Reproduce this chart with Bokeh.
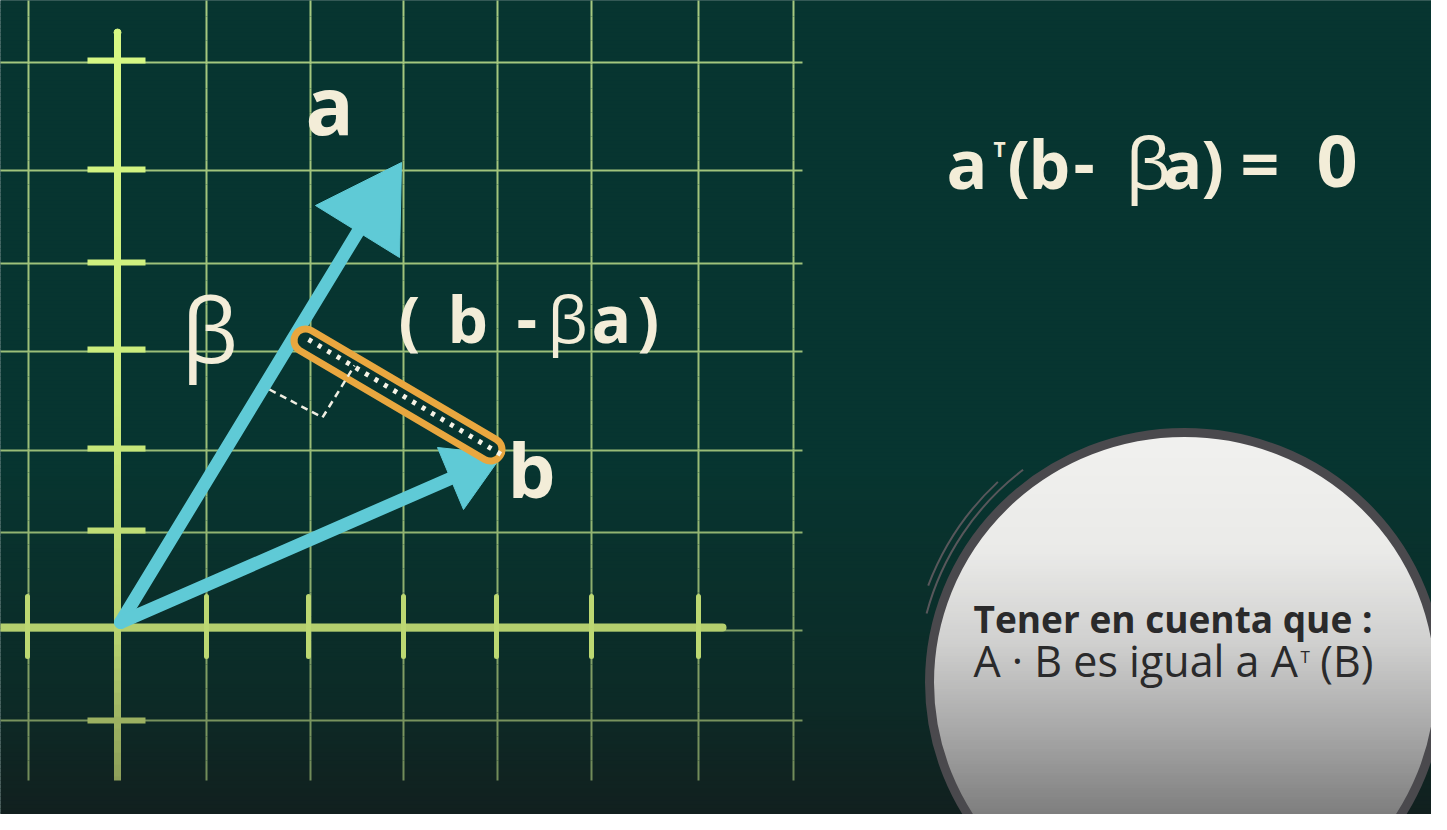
from bokeh.core.properties import value
from bokeh.embed import file_html
from bokeh.models import Range1d
from bokeh.plotting import figure
from bokeh.resources import INLINE

# Everything is placed in the reference's own pixel frame (x right, y down).
GRID_X = [36, 214, 318, 411, 505, 599, 706, 801]
GRID_Y = [70, 178, 271, 359, 458, 540, 638, 728]
GRID_TOP, GRID_BOTTOM = 0, 788
GRID_LEFT, GRID_RIGHT = 4, 810

AXIS_X = 125
AXIS_Y = 635
Y_AXIS_SPAN = [40, 788]
X_AXIS_SPAN = [4, 730]
Y_TICKS = [68, 177, 270, 357, 456, 538, 728]
X_TICKS = [35, 214, 316, 411, 504, 599, 706]

ORIGIN_X, ORIGIN_Y = 128, 630
SHAFT_END_X = [365, 458]
SHAFT_END_Y = [240, 486]
HEAD_XS = [[409, 323, 407], [510, 445, 471]]
HEAD_YS = [[170, 213, 265], [462, 455, 517]]

CAPSULE_X = [313, 498]
CAPSULE_Y = [348, 457]
DOTS_X = [316, 512]
DOTS_Y = [347, 464]
RIGHT_ANGLE_X = [277, 330, 362]
RIGHT_ANGLE_Y = [397, 425, 373]

BUBBLE_CX, BUBBLE_CY = 1192, 690
BUBBLE_RX, BUBBLE_RY = 255, 250

# (text, x, baseline y, size px, bold?)
LABELS = [
    ("a", 313, 144, 80, True),
    ("β", 189, 372, 90, False),
    ("(", 406, 352, 64, True),
    ("b", 455, 352, 64, True),
    ("-", 524, 352, 64, True),
    ("β", 555, 352, 64, False),
    ("a", 599, 352, 66, True),
    (")", 645, 352, 64, True),
    ("b", 515, 507, 76, True),
]
EQUATION = [
    ("a", 954, 198, 68, True),
    ("T", 1001, 165, 21, True),
    ("(", 1015, 198, 66, True),
    ("b", 1036, 198, 66, True),
    ("-", 1081, 198, 66, True),
    ("β", 1133, 198, 72, False),
    ("a", 1170, 198, 66, True),
    (")", 1209, 198, 66, True),
    ("=", 1248, 198, 68, True),
    ("0", 1324, 198, 72, True),
]
NOTE = [
    ("Tener en cuenta que :", 981, 641, 37, True),
    ("A · B es igual a A", 981, 686, 43, False),
    ("T", 1308, 671, 17, False),
]
NOTE_END = ("(B)", 1381, 686, 43)
BASELINE_SHIFT = 0.41  # em; how far the renderer drops an "alphabetic" anchor

BG_STOPS = [(0, "#073530"), (470, "#073530"), (700, "#0c2b27"), (830, "#121f1e")]
GRID_STOPS = [(0, "#a6c980"), (500, "#98bb76"), (788, "#6f8858")]
YAXIS_STOPS = [(40, "#d7f884"), (400, "#cbec7c"), (635, "#b8d370"), (788, "#8a9b58")]
BUBBLE_STOPS = [(440, "#f1f1ef"), (560, "#eaeae8"), (650, "#d0d0cf"), (740, "#a7a7a7"), (830, "#7a7a7a")]
VEC_COLOR = "#5fcad6"
CREAM = "#f3edd8"
INK = "#2a2a2b"
FONT = "Open Sans"


def ramp(stops, y):
    """Linear colour between (y, hex) stops."""
    if y <= stops[0][0]:
        return stops[0][1]
    for (y0, c0), (y1, c1) in zip(stops, stops[1:]):
        if y <= y1:
            t = (y - y0) / (y1 - y0)
            a = [int(c0[i:i + 2], 16) for i in (1, 3, 5)]
            b = [int(c1[i:i + 2], 16) for i in (1, 3, 5)]
            return "#%02x%02x%02x" % tuple(round(u + (v - u) * t) for u, v in zip(a, b))
    return stops[-1][1]


def put_text(p, txt, x, y, size, bold, color, align="left"):
    p.text(x=[x], y=[y - BASELINE_SHIFT * size], text=[txt], text_color=color,
           text_font=value(FONT), text_font_size=f"{size}px",
           text_font_style="bold" if bold else "normal",
           text_baseline="alphabetic", text_align=align)


p = figure(width=1431, height=814, x_range=Range1d(8, 1439), y_range=Range1d(822, 8),
           x_axis_location=None, y_axis_location=None, toolbar_location=None,
           output_backend="svg", min_border=0, outline_line_color=None,
           background_fill_color="#073530", border_fill_color="#073530")
p.xgrid.grid_line_color = None
p.ygrid.grid_line_color = None

# background gradient
bands = list(range(0, 830, 4))
p.quad(left=0, right=1447, top=bands, bottom=[b + 4.5 for b in bands],
       fill_color=[ramp(BG_STOPS, b) for b in bands], line_color=None)

# grid
chunks = list(range(GRID_TOP, GRID_BOTTOM, 24))
gx0, gy0, gy1, gcol = [], [], [], []
for x in GRID_X:
    for c in chunks:
        gx0.append(x)
        gy0.append(c)
        gy1.append(min(c + 24, GRID_BOTTOM))
        gcol.append(ramp(GRID_STOPS, c))
p.segment(x0=gx0, y0=gy0, x1=gx0, y1=gy1, line_color=gcol, line_width=2)
p.segment(x0=GRID_LEFT, y0=GRID_Y, x1=GRID_RIGHT, y1=GRID_Y,
          line_color=[ramp(GRID_STOPS, y) for y in GRID_Y], line_width=2)

# axes
p.segment(x0=X_AXIS_SPAN[0], y0=AXIS_Y, x1=X_AXIS_SPAN[1], y1=AXIS_Y,
          line_color="#b5cf6e", line_width=8, line_cap="round")
p.segment(x0=X_TICKS, y0=AXIS_Y - 31, x1=X_TICKS, y1=AXIS_Y + 29,
          line_color="#bcd872", line_width=5, line_cap="round")
ys = list(range(Y_AXIS_SPAN[0], Y_AXIS_SPAN[1], 12))
p.segment(x0=AXIS_X, y0=ys, x1=AXIS_X, y1=[min(y + 13, Y_AXIS_SPAN[1]) for y in ys],
          line_color=[ramp(YAXIS_STOPS, y) for y in ys], line_width=7)
p.scatter(x=[AXIS_X], y=[Y_AXIS_SPAN[0]], size=7, color=YAXIS_STOPS[0][1])
p.segment(x0=AXIS_X - 30, y0=Y_TICKS, x1=AXIS_X + 28, y1=Y_TICKS,
          line_color=[ramp(YAXIS_STOPS, y) for y in Y_TICKS], line_width=6)

# vectors a and b
p.segment(x0=ORIGIN_X, y0=ORIGIN_Y, x1=SHAFT_END_X, y1=SHAFT_END_Y,
          line_color=VEC_COLOR, line_width=13, line_cap="round")
p.patches(xs=HEAD_XS, ys=HEAD_YS, fill_color=VEC_COLOR, line_color=VEC_COLOR, line_width=1)

# b - βa, boxed in orange, with the right-angle mark
p.line(x=CAPSULE_X, y=CAPSULE_Y, line_color="#e9a73f", line_width=30, line_cap="round")
p.line(x=CAPSULE_X, y=CAPSULE_Y, line_color="#073530", line_width=16, line_cap="round")
p.line(x=DOTS_X, y=DOTS_Y, line_color="#f6f3e6", line_width=5, line_dash="4 7")
p.line(x=RIGHT_ANGLE_X, y=RIGHT_ANGLE_Y, line_color="#f0eee2", line_width=2.5, line_dash="7 5")

for txt, x, y, size, bold in LABELS + EQUATION:
    put_text(p, txt, x, y, size, bold, CREAM)

# speech bubble
rows = list(range(BUBBLE_CY - BUBBLE_RY, 834, 3))
left, right, kept = [], [], []
for y in rows:
    d = (y - BUBBLE_CY) / BUBBLE_RY
    if abs(d) >= 1:
        continue
    half = BUBBLE_RX * (1 - d * d) ** 0.5
    left.append(BUBBLE_CX - half)
    right.append(BUBBLE_CX + half)
    kept.append(y)
p.hbar(y=kept, left=left, right=right, height=3.6,
       fill_color=[ramp(BUBBLE_STOPS, y) for y in kept], line_color=None)
p.ellipse(x=BUBBLE_CX, y=BUBBLE_CY, width=2 * BUBBLE_RX, height=2 * BUBBLE_RY,
          fill_color=None, line_color="#4a494d", line_width=9)
p.arc(x=BUBBLE_CX, y=BUBBLE_CY, radius=[267, 274], start_angle=[2.22, 2.32],
      end_angle=[2.88, 2.78], line_color="#58575b", line_width=2, direction="anticlock")

for txt, x, y, size, bold in NOTE:
    put_text(p, txt, x, y, size, bold, INK)
txt, x, y, size = NOTE_END
put_text(p, txt, x, y, size, False, INK, align="right")

open("out.html", "w").write(file_html(p, INLINE))
